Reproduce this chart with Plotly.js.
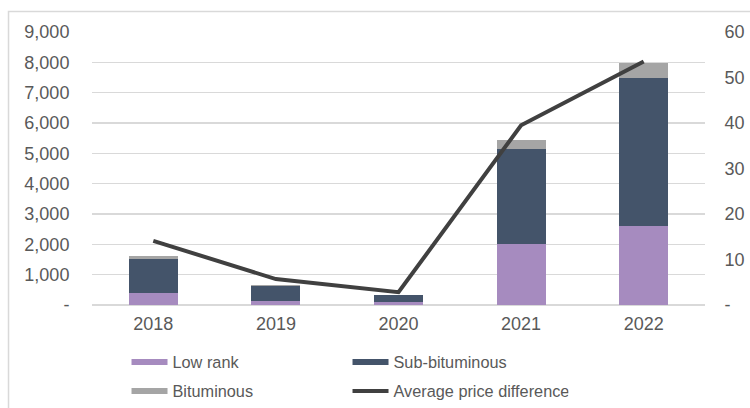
<!DOCTYPE html>
<html>
<head>
<meta charset="utf-8">
<script src="https://cdn.plot.ly/plotly-3.0.1.min.js"></script>
<style>html,body{margin:0;padding:0;background:#fff;}#chart{width:750px;height:408px;}</style>
</head>
<body>
<div id="chart"></div>
<script>
var years = ['2018', '2019', '2020', '2021', '2022'];
var lowRank = [400, 130, 100, 2000, 2600];
var subBituminous = [1110, 510, 220, 3150, 4900];
var bituminous = [90, 20, 20, 300, 480];
var avgPriceDiff = [14.1, 5.7, 2.8, 39.5, 53.5];

var leftTickVals = [0, 1000, 2000, 3000, 4000, 5000, 6000, 7000, 8000, 9000];
var leftTickText = ['-', '1,000', '2,000', '3,000', '4,000', '5,000', '6,000', '7,000', '8,000', '9,000'];
var rightTickVals = [0, 10, 20, 30, 40, 50, 60];
var rightTickText = ['-', '10', '20', '30', '40', '50', '60'];

var cLow = '#a68bbf', cSub = '#44546a', cBit = '#a5a5a5', cLine = '#404040';
var txt = '#595959';
var fontFam = 'Liberation Sans, Arial, sans-serif';
var axFs = 18;
var legFs = 16.3;

var traces = [
  {type: 'bar', x: years, y: lowRank, name: 'Low rank', marker: {color: cLow}, showlegend: false},
  {type: 'bar', x: years, y: subBituminous, name: 'Sub-bituminous', marker: {color: cSub}, showlegend: false},
  {type: 'bar', x: years, y: bituminous, name: 'Bituminous', marker: {color: cBit}, showlegend: false},
  {type: 'scatter', mode: 'lines', x: years, y: avgPriceDiff, yaxis: 'y2', name: 'Average price difference', line: {color: cLine, width: 4}, showlegend: false},
  // legend entries
  {type: 'scatter', mode: 'lines', x: [null], y: [null], name: 'Low rank', line: {color: cLow, width: 6}, legend: 'legend'},
  {type: 'scatter', mode: 'lines', x: [null], y: [null], name: 'Sub-bituminous', line: {color: cSub, width: 6}, legend: 'legend'},
  {type: 'scatter', mode: 'lines', x: [null], y: [null], name: 'Bituminous', line: {color: cBit, width: 6}, legend: 'legend2'},
  {type: 'scatter', mode: 'lines', x: [null], y: [null], name: 'Average price difference', line: {color: cLine, width: 4}, legend: 'legend2'}
];

var legendBase = {
  orientation: 'h', xanchor: 'left', yanchor: 'top',
  entrywidth: 170, entrywidthmode: 'pixels', itemwidth: 36,
  font: {family: fontFam, size: legFs, color: txt},
  traceorder: 'normal', bgcolor: 'rgba(0,0,0,0)'
};
var leg1 = Object.assign({}, legendBase, {x: 0.0563, y: -0.146});
var leg2 = Object.assign({}, legendBase, {x: 0.0563, y: -0.252});

var layout = {
  width: 750, height: 408,
  margin: {l: 92, r: 45, t: 32, b: 103, autoexpand: false},
  paper_bgcolor: '#ffffff', plot_bgcolor: '#ffffff',
  font: {family: fontFam, size: axFs, color: txt},
  barmode: 'stack',
  bargap: 0.6,
  xaxis: {
    type: 'category', showgrid: false, zeroline: false, showline: false,
    ticks: 'outside', ticklen: 2, tickcolor: 'rgba(0,0,0,0)',
    tickfont: {family: fontFam, size: axFs, color: txt}
  },
  yaxis: {
    range: [0, 9000], tickvals: leftTickVals, ticktext: leftTickText,
    showgrid: true, gridcolor: '#d9d9d9', gridwidth: 1.2,
    zeroline: true, zerolinecolor: '#d9d9d9', zerolinewidth: 1.2, showline: false,
    ticks: 'outside', ticklen: 18, tickcolor: 'rgba(0,0,0,0)',
    tickfont: {family: fontFam, size: axFs, color: txt}
  },
  yaxis2: {
    range: [0, 60], tickvals: rightTickVals, ticktext: rightTickText,
    overlaying: 'y', side: 'right', showgrid: false, zeroline: false, showline: false,
    ticks: 'outside', ticklen: 15, tickcolor: 'rgba(0,0,0,0)',
    tickfont: {family: fontFam, size: axFs, color: txt}
  },
  legend: leg1,
  legend2: leg2,
  shapes: [
    {type: 'rect', xref: 'paper', yref: 'paper', x0: -0.1362, x1: 1.2, y0: -0.5, y1: 1.075,
     line: {color: '#d9d9d9', width: 1.5}, fillcolor: 'rgba(0,0,0,0)', layer: 'below'}
  ],
  showlegend: true
};

Plotly.newPlot('chart', traces, layout, {displayModeBar: false, staticPlot: true});
</script>
</body>
</html>
